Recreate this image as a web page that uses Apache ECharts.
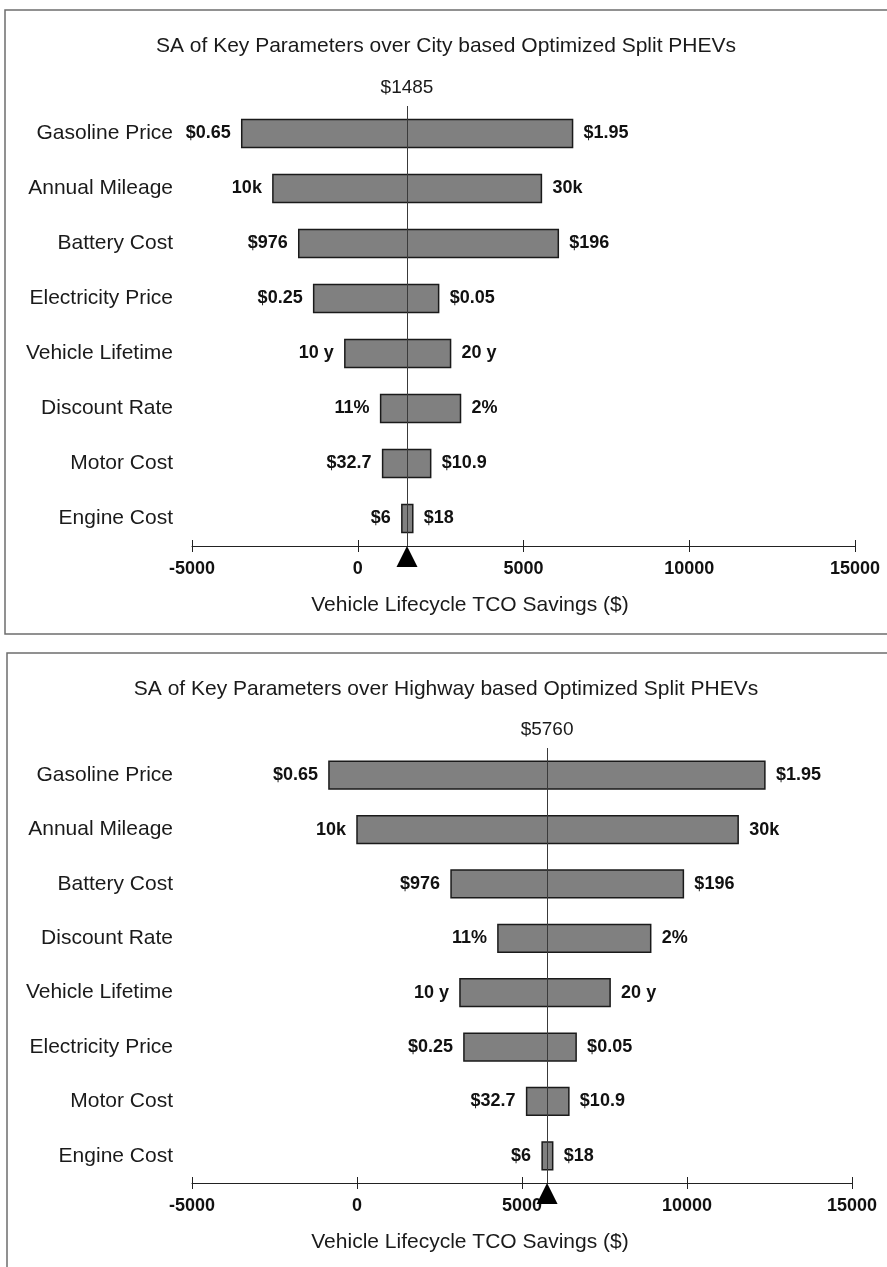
<!DOCTYPE html>
<html>
<head>
<meta charset="utf-8">
<script src="https://cdn.jsdelivr.net/npm/echarts@6/dist/echarts.min.js"></script>
<style>
  html, body { margin: 0; padding: 0; background: #ffffff; }
  #chart { width: 887px; height: 1267px; }
</style>
</head>
<body>
<div id="chart"></div>
<script>
// Axis range shared by both tornado panels
const axisMin = -5000;
const axisMax = 15000;
const axisStep = 5000;

// City-based optimized split PHEVs
const cityTitle = 'SA of Key Parameters over City based Optimized Split PHEVs';
const cityBase = 1485;
const cityCategories = ['Gasoline Price', 'Annual Mileage', 'Battery Cost', 'Electricity Price',
  'Vehicle Lifetime', 'Discount Rate', 'Motor Cost', 'Engine Cost'];
const cityLow = [-3500, -2560, -1780, -1330, -390, 690, 750, 1330];
const cityHigh = [6480, 5540, 6050, 2440, 2800, 3100, 2200, 1660];
const cityLowText = ['$0.65', '10k', '$976', '$0.25', '10 y', '11%', '$32.7', '$6'];
const cityHighText = ['$1.95', '30k', '$196', '$0.05', '20 y', '2%', '$10.9', '$18'];

// Highway-based optimized split PHEVs
const hwyTitle = 'SA of Key Parameters over Highway based Optimized Split PHEVs';
const hwyBase = 5760;
const hwyCategories = ['Gasoline Price', 'Annual Mileage', 'Battery Cost', 'Discount Rate',
  'Vehicle Lifetime', 'Electricity Price', 'Motor Cost', 'Engine Cost'];
const hwyLow = [-850, 0, 2850, 4270, 3120, 3240, 5140, 5610];
const hwyHigh = [12360, 11550, 9890, 8900, 7670, 6640, 6420, 5930];
const hwyLowText = ['$0.65', '10k', '$976', '11%', '10 y', '$0.25', '$32.7', '$6'];
const hwyHighText = ['$1.95', '30k', '$196', '2%', '20 y', '$0.05', '$10.9', '$18'];

const xName = 'Vehicle Lifecycle TCO Savings ($)';

const FONT = '"Liberation Sans", Arial, Helvetica, sans-serif';
const BAR_FILL = '#808080';
const BAR_EDGE = '#1a1a1a';

const chart = echarts.init(document.getElementById('chart'), null, { renderer: 'canvas' });

// Floating bar from low to high, with the low/high parameter values on either side
function makeBarRenderer(lowText, highText) {
  return function (params, api) {
    const cat = api.value(0);
    const lo = api.value(1);
    const hi = api.value(2);
    const p0 = api.coord([lo, cat]);
    const p1 = api.coord([hi, cat]);
    const h = api.size([0, 1])[1] * 0.51;
    const i = params.dataIndex;
    return {
      type: 'group',
      children: [
        {
          type: 'rect',
          shape: { x: p0[0], y: p0[1] - h / 2, width: p1[0] - p0[0], height: h },
          style: { fill: BAR_FILL, stroke: BAR_EDGE, lineWidth: 1.5 }
        },
        {
          type: 'text',
          style: {
            text: lowText[i], x: p0[0] - 11, y: p0[1],
            align: 'right', verticalAlign: 'middle',
            textAlign: 'right', textVerticalAlign: 'middle',
            font: 'bold 18px ' + FONT, fill: '#111'
          }
        },
        {
          type: 'text',
          style: {
            text: highText[i], x: p1[0] + 11, y: p1[1],
            align: 'left', verticalAlign: 'middle',
            textAlign: 'left', textVerticalAlign: 'middle',
            font: 'bold 18px ' + FONT, fill: '#111'
          }
        }
      ]
    };
  };
}

// Black pointer on the axis at the baseline value, plus the baseline value above the plot
function renderPointer(params, api) {
  const base = api.value(0);
  const x = api.coord([base, 0])[0];
  const top = params.coordSys.y;
  const y = top + params.coordSys.height;
  return {
    type: 'group',
    children: [
      {
        type: 'polygon',
        shape: { points: [[x, y], [x - 10.5, y + 21], [x + 10.5, y + 21]] },
        style: { fill: '#000' }
      },
      {
        type: 'text',
        style: {
          text: '$' + base, x: x, y: top - 9,
          align: 'center', verticalAlign: 'bottom',
          textAlign: 'center', textVerticalAlign: 'bottom',
          font: '19px ' + FONT, fill: '#1a1a1a'
        }
      }
    ]
  };
}

function panelSeries(idx, cats, low, high, lowText, highText, base) {
  const data = cats.map((c, i) => [i, low[i], high[i]]);
  return [
    {
      type: 'custom',
      xAxisIndex: idx * 2,
      yAxisIndex: idx,
      renderItem: makeBarRenderer(lowText, highText),
      encode: { x: [1, 2], y: 0 },
      data: data,
      clip: false,
      z: 2,
      silent: true
    },
    {
      type: 'custom',
      xAxisIndex: idx * 2,
      yAxisIndex: idx,
      renderItem: renderPointer,
      encode: { x: 0, y: 1 },
      data: [[base, 0]],
      clip: false,
      z: 5,
      silent: true,
      markLine: {
        silent: true,
        symbol: 'none',
        z: 6,
        lineStyle: { color: '#3a3a3a', width: 1, type: 'solid' },
        label: { show: false },
        data: [{ xAxis: base }]
      }
    }
  ];
}

function valueAxes(gridIndex) {
  return [
    {
      type: 'value',
      gridIndex: gridIndex,
      position: 'bottom',
      min: axisMin,
      max: axisMax,
      interval: axisStep,
      splitLine: { show: false },
      axisLine: { show: true, lineStyle: { color: '#222', width: 1 } },
      axisTick: { show: true, length: 6, lineStyle: { color: '#222', width: 1 } },
      axisLabel: {
        show: true, margin: 14, color: '#111',
        fontSize: 18, fontWeight: 'bold', fontFamily: FONT,
        formatter: (v) => String(v),
        showMinLabel: true, showMaxLabel: true, hideOverlap: false
      }
    },
    {
      type: 'value',
      gridIndex: gridIndex,
      position: 'bottom',
      min: axisMin,
      max: axisMax,
      interval: axisStep,
      splitLine: { show: false },
      axisLine: { show: false },
      axisTick: { show: true, inside: true, length: 6, lineStyle: { color: '#222', width: 1 } },
      axisLabel: { show: false }
    }
  ];
}

function categoryAxis(gridIndex, cats) {
  return {
    type: 'category',
    gridIndex: gridIndex,
    data: cats,
    inverse: true,
    axisLine: { show: false },
    axisTick: { show: false },
    splitLine: { show: false },
    axisLabel: {
      margin: 19, color: '#1a1a1a', fontSize: 21, fontFamily: FONT
    }
  };
}

function headerText(text, y) {
  return {
    type: 'text',
    style: {
      text: text, x: 446, y: y,
      align: 'center', verticalAlign: 'middle',
      textAlign: 'center', textVerticalAlign: 'middle',
      font: '21px ' + FONT, fill: '#1a1a1a'
    }
  };
}

function axisTitle(y) {
  return {
    type: 'text',
    style: {
      text: xName, x: 470, y: y,
      align: 'center', verticalAlign: 'middle',
      textAlign: 'center', textVerticalAlign: 'middle',
      font: '21px ' + FONT, fill: '#1a1a1a'
    }
  };
}

const option = {
  backgroundColor: '#ffffff',
  animation: false,
  grid: [
    { left: 192, width: 663, top: 106, height: 440 },
    { left: 192, width: 660, top: 748, height: 435 }
  ],
  xAxis: [...valueAxes(0), ...valueAxes(1)],
  yAxis: [categoryAxis(0, cityCategories), categoryAxis(1, hwyCategories)],
  series: [
    ...panelSeries(0, cityCategories, cityLow, cityHigh, cityLowText, cityHighText, cityBase),
    ...panelSeries(1, hwyCategories, hwyLow, hwyHigh, hwyLowText, hwyHighText, hwyBase)
  ],
  graphic: [
    // panel frames
    {
      type: 'polyline',
      shape: { points: [[887, 10], [5, 10], [5, 634], [887, 634]] },
      style: { stroke: '#6e6e6e', lineWidth: 1.5, fill: null }
    },
    {
      type: 'polyline',
      shape: { points: [[887, 653], [7, 653], [7, 1267]] },
      style: { stroke: '#6e6e6e', lineWidth: 1.5, fill: null }
    },
    headerText(cityTitle, 46),
    headerText(hwyTitle, 689),
    axisTitle(605),
    axisTitle(1242)
  ]
};

chart.setOption(option);
</script>
</body>
</html>
